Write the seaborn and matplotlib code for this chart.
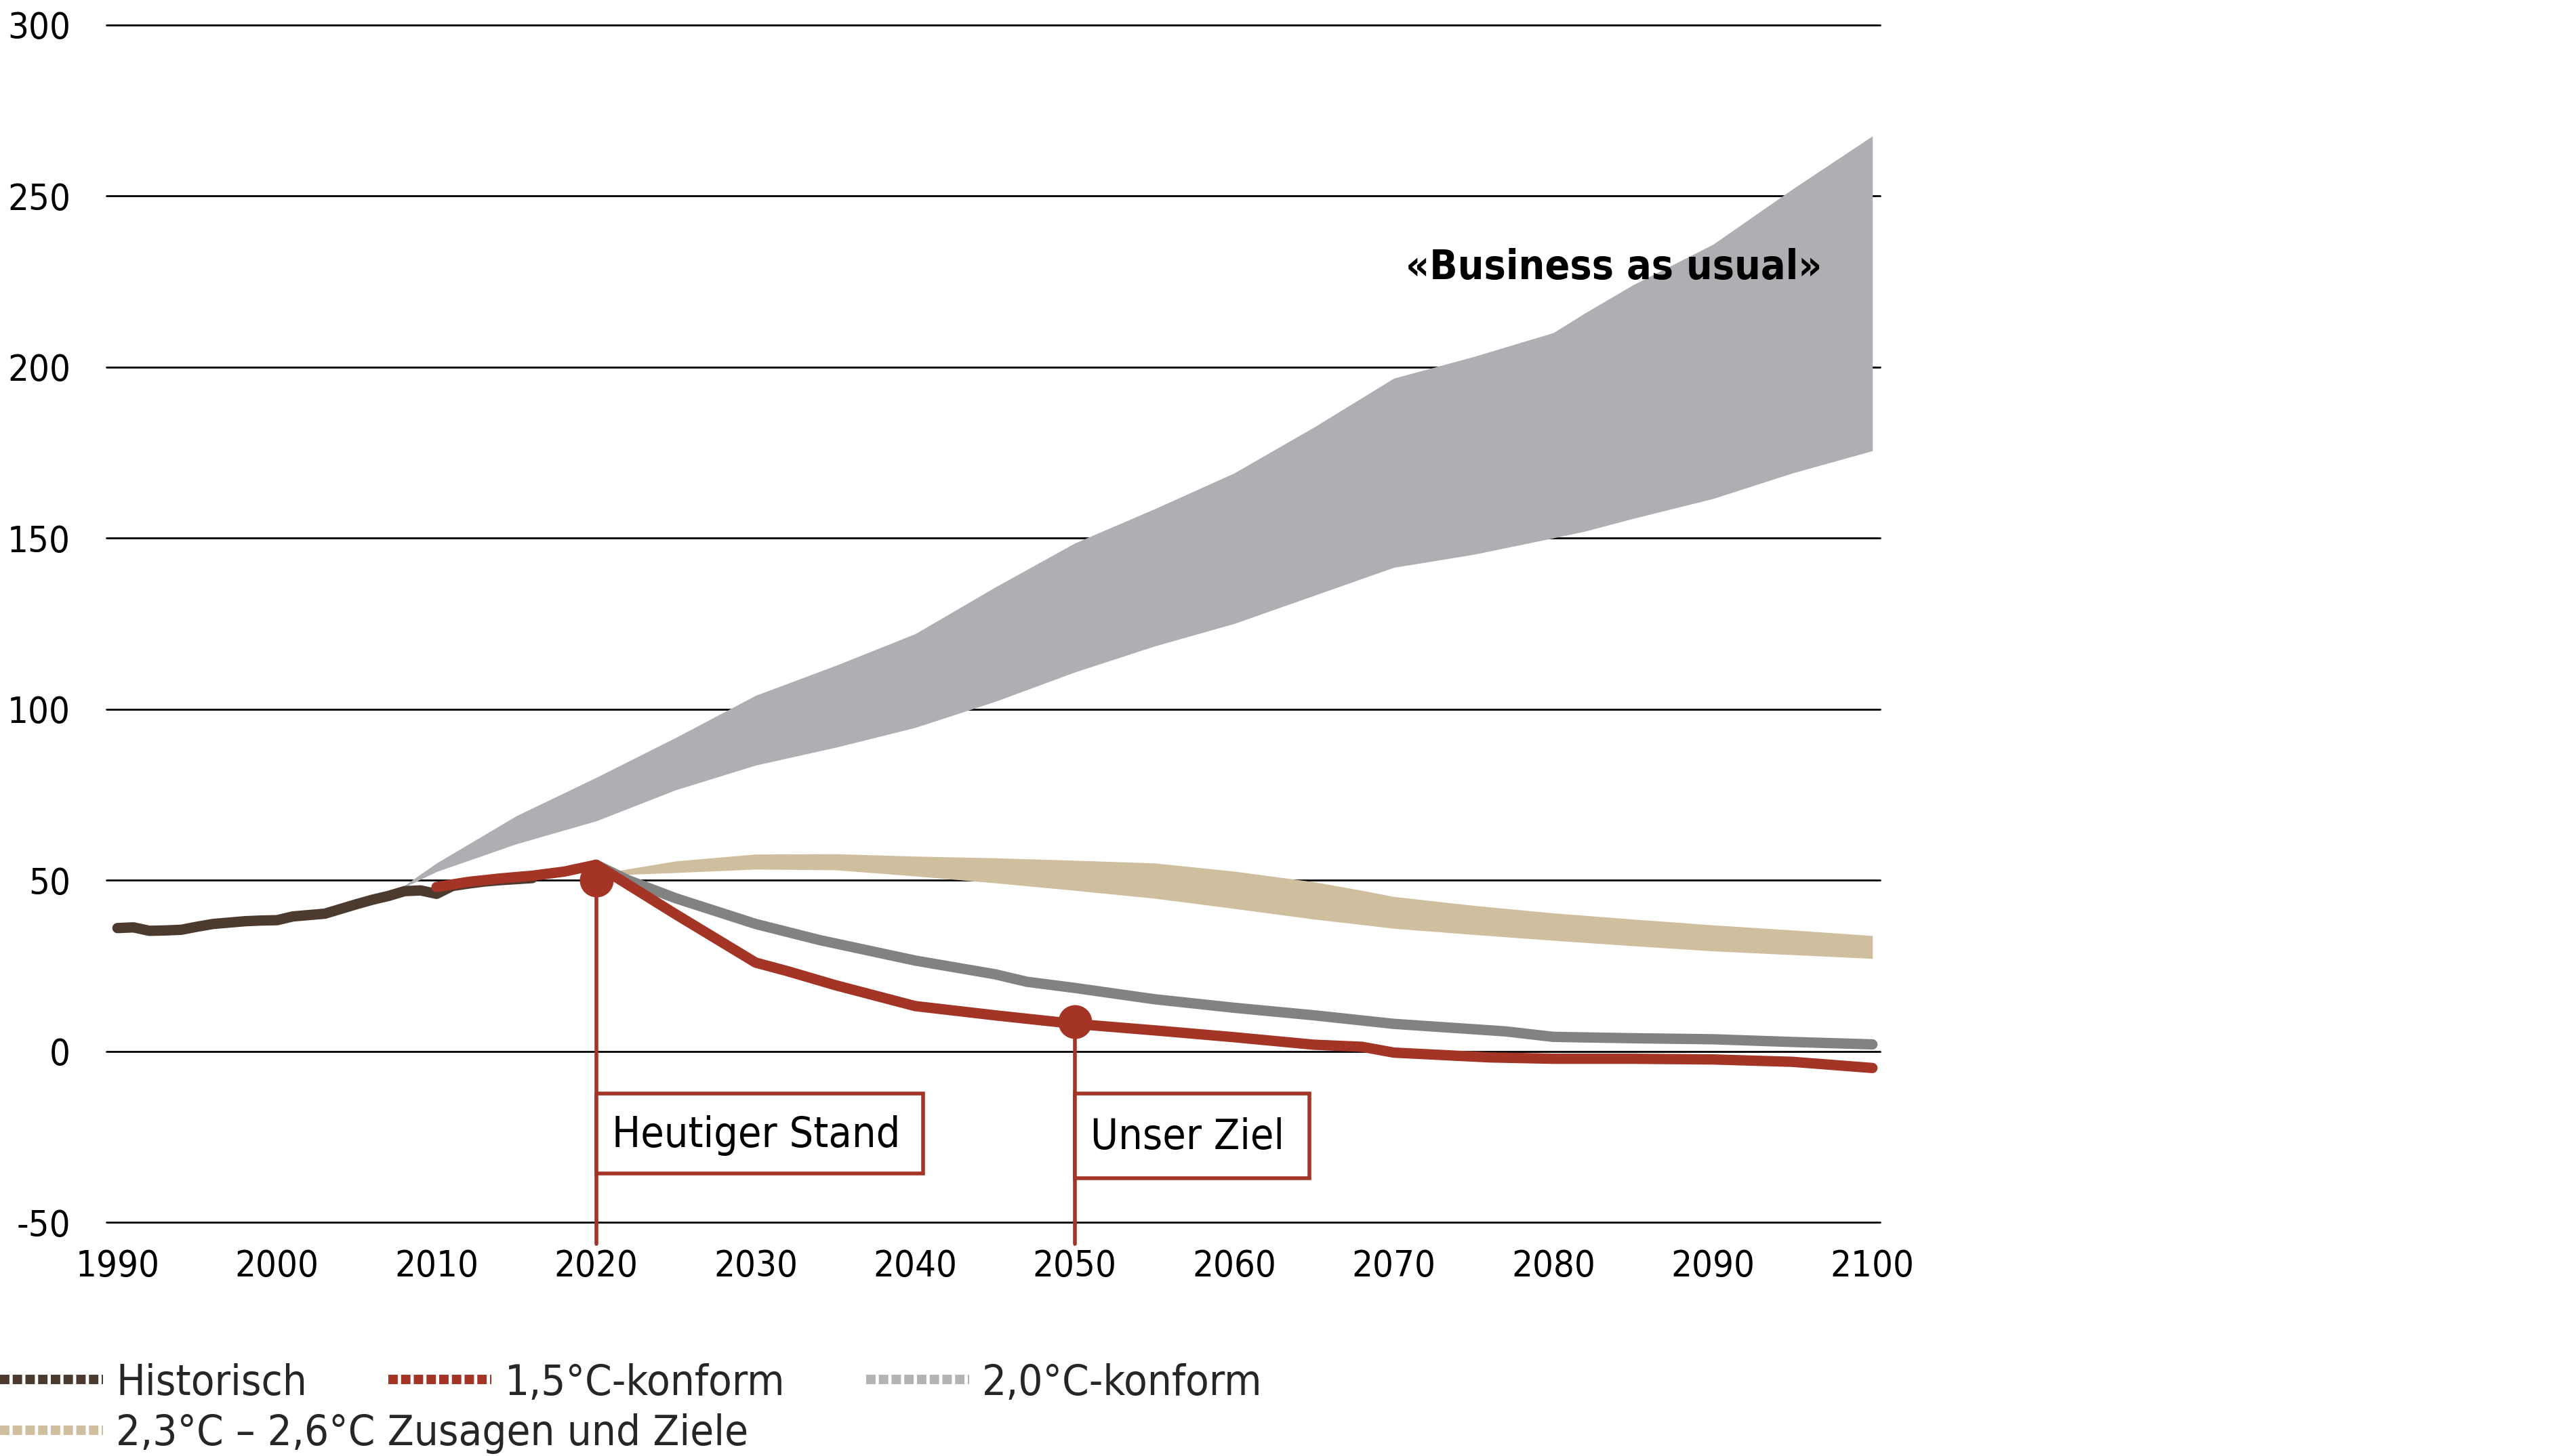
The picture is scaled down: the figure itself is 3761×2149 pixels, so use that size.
import numpy as np
import pandas as pd
import matplotlib
matplotlib.use("Agg")
import matplotlib.pyplot as plt
from matplotlib import font_manager as fm
from matplotlib.patches import Rectangle
from matplotlib.lines import Line2D
import seaborn as sns

# ---------------- data ----------------
hist_years = [1990, 1991, 1992, 1993, 1994, 1995, 1996, 1997, 1998, 1999, 2000, 2001, 2002,
              2003, 2004, 2005, 2006, 2007, 2008, 2009, 2010, 2011, 2012, 2013, 2014, 2015, 2016]
hist_values = [36.0, 36.2, 35.2, 35.3, 35.5, 36.4, 37.2, 37.6, 38.0, 38.2, 38.3, 39.4, 39.8,
               40.2, 41.6, 43.0, 44.3, 45.4, 46.8, 47.0, 46.0, 48.3, 49.0, 49.6, 50.0, 50.3, 50.6]

c15_years = [2010, 2012, 2014, 2016, 2018, 2020, 2025, 2030, 2032, 2035, 2040, 2045, 2050, 2055,
             2060, 2065, 2068, 2070, 2076, 2080, 2085, 2090, 2095, 2100]
c15_values = [48.0, 49.5, 50.5, 51.3, 52.5, 54.5, 40.0, 25.9, 23.4, 19.3, 13.2, 10.5, 8.0, 6.1,
              4.1, 1.9, 1.3, -0.4, -1.8, -2.2, -2.2, -2.4, -3.1, -4.9]

c20_years = [2020, 2022, 2025, 2030, 2034, 2040, 2045, 2047, 2050, 2055, 2060, 2065, 2068, 2070,
             2077, 2080, 2085, 2090, 2095, 2100]
c20_values = [54.5, 50.0, 44.7, 37.2, 32.5, 26.5, 22.5, 20.3, 18.5, 15.2, 12.7, 10.5, 9.0, 8.0,
              5.8, 4.2, 3.8, 3.5, 2.7, 2.0]

pledge_years = [2021, 2025, 2030, 2035, 2040, 2045, 2050, 2055, 2060, 2065, 2068, 2070, 2075,
                2080, 2085, 2090, 2095, 2100]
pledge_upper = [52.5, 55.6, 57.6, 57.7, 57.0, 56.5, 55.8, 55.0, 52.6, 49.5, 47.0, 45.2, 42.6,
                40.4, 38.6, 36.9, 35.4, 33.8]
pledge_lower = [51.5, 52.2, 53.2, 53.0, 51.2, 49.2, 47.0, 44.7, 41.7, 38.6, 37.0, 35.9, 34.1,
                32.4, 30.8, 29.3, 28.2, 27.1]

bau_years = [2008, 2010, 2015, 2020, 2025, 2030, 2035, 2040, 2045, 2050, 2055, 2060, 2065, 2070,
             2075, 2080, 2082, 2085, 2090, 2095, 2100]
bau_upper = [48.5, 55.0, 68.8, 80.0, 91.7, 104.0, 112.7, 122.0, 135.6, 148.5, 158.5, 169.0,
             182.4, 196.7, 203.0, 210.0, 215.8, 224.0, 235.8, 252.0, 267.5]
bau_lower = [48.0, 52.5, 60.6, 67.3, 76.4, 83.6, 88.8, 94.6, 102.2, 110.8, 118.4, 125.0,
             133.2, 141.4, 145.2, 150.0, 152.0, 155.7, 161.5, 169.0, 175.5]

marker_years = [2020, 2050]
marker_values = [50.0, 8.6]
marker_labels = ["Heutiger Stand", "Unser Ziel"]
box_widths = [20.5, 14.7]          # in years
box_top = -12.4
box_bottoms = [-35.8, -37.2]
stem_bottom = -56.4

y_ticks = [-50, 0, 50, 100, 150, 200, 250, 300]
x_ticks = list(range(1990, 2101, 10))

legend_labels = ["Historisch", "1,5°C-konform", "2,0°C-konform", "2,3°C – 2,6°C Zusagen und Ziele"]
bau_label = "«Business as usual»"

# ---------------- colours ----------------
C_HIST = "#4d3a2e"
C_15 = "#a33426"
C_20 = "#828282"
C_20_LEG = "#b3b3b3"
C_PLEDGE = "#d0bf9e"
C_BAU = "#aeafb2"

# ---------------- fonts ----------------
sns.set_theme(style="white")

def find_font(keys):
    for k in keys:
        for f in fm.fontManager.ttflist:
            if f.fname.split("/")[-1] == k:
                return f.fname
    return None

reg_path = find_font(["LiberationSansNarrow-Regular.ttf", "DejaVuSansCondensed.ttf"])
bold_path = find_font(["LiberationSansNarrow-Bold.ttf", "DejaVuSansCondensed-Bold.ttf"])

def fp(size, bold=False):
    path = bold_path if bold else reg_path
    if path:
        return fm.FontProperties(fname=path, size=size)
    return fm.FontProperties(family="DejaVu Sans", size=size,
                             weight="bold" if bold else "normal", stretch="condensed")

plt.rcParams["font.family"] = ["DejaVu Sans"]
plt.rcParams["axes.unicode_minus"] = False

TICK_FS = 19.5
LEG_FS = 22.8
ANN_FS = 22.5
BAU_FS = 21.8
LW = 5.5

fig = plt.figure(figsize=(18.805, 10.745), dpi=200)
ax = fig.add_axes([0.0417, 0.1605, 0.696, 0.8225])

# BAU band
ax.fill_between(bau_years, bau_lower, bau_upper, color=C_BAU, lw=0, zorder=1)
# pledge band
ax.fill_between(pledge_years, pledge_lower, pledge_upper, color=C_PLEDGE, lw=0, zorder=2)

df_hist = pd.DataFrame({"year": hist_years, "value": hist_values})
df_15 = pd.DataFrame({"year": c15_years, "value": c15_values})
df_20 = pd.DataFrame({"year": c20_years, "value": c20_values})

sns.lineplot(data=df_hist, x="year", y="value", ax=ax, color=C_HIST, linewidth=LW,
             solid_capstyle="round", zorder=3)
sns.lineplot(data=df_20, x="year", y="value", ax=ax, color=C_20, linewidth=LW,
             solid_capstyle="round", zorder=4)
sns.lineplot(data=df_15, x="year", y="value", ax=ax, color=C_15, linewidth=LW,
             solid_capstyle="round", zorder=5)

# annotation stems, markers, boxes
for yr, val, lab, bw, bb in zip(marker_years, marker_values, marker_labels, box_widths, box_bottoms):
    ax.plot([yr, yr], [val, stem_bottom], color=C_15, lw=2.0, clip_on=False, zorder=6)
    ax.plot([yr], [val], marker="o", ms=17, color=C_15, zorder=7)
    ax.add_patch(Rectangle((yr, bb), bw, box_top - bb, fill=True, facecolor="white",
                           edgecolor=C_15, lw=2.0, zorder=6))
    ax.text(yr + 1.0, (box_top + bb) / 2 - 0.5, lab, fontproperties=fp(ANN_FS),
            ha="left", va="center", color="black", zorder=8)

ax.text(2083.8, 229, bau_label, fontproperties=fp(BAU_FS, bold=True),
        ha="center", va="center", color="black", zorder=8)

# axes styling
ax.set_xlim(1989.3, 2100.5)
ax.set_ylim(-50, 300)
ax.set_yticks(y_ticks)
ax.set_xticks(x_ticks)
ax.set_xlabel("")
ax.set_ylabel("")
for s in ax.spines.values():
    s.set_visible(False)
ax.yaxis.grid(True, color="black", lw=1.0, zorder=0)
ax.xaxis.grid(False)
ax.set_axisbelow(True)
for gl in ax.get_ygridlines():
    gl.set_clip_on(False)
ax.tick_params(axis="both", length=0)
ax.tick_params(axis="y", pad=19)
ax.tick_params(axis="x", pad=14)
ax.set_yticklabels([str(v) for v in y_ticks])
ax.set_xticklabels([str(v) for v in x_ticks])
for t in ax.get_xticklabels() + ax.get_yticklabels():
    t.set_fontproperties(fp(TICK_FS))
    t.set_color("black")

# legends
dash = (0, (1.0, 0.35))
h = [Line2D([0], [0], color=C_HIST, lw=5, linestyle=dash),
     Line2D([0], [0], color=C_15, lw=5, linestyle=dash),
     Line2D([0], [0], color=C_20_LEG, lw=5, linestyle=dash),
     Line2D([0], [0], color=C_PLEDGE, lw=5, linestyle=dash)]

leg1 = fig.legend(h[:3], legend_labels[:3], loc="center left", bbox_to_anchor=(0.0, 0.050),
                  ncol=3, frameon=False, prop=fp(LEG_FS), handlelength=2.4,
                  handletextpad=0.3, columnspacing=1.9, borderpad=0, borderaxespad=0)
leg2 = fig.legend(h[3:], legend_labels[3:], loc="center left", bbox_to_anchor=(0.0, 0.0155),
                  ncol=1, frameon=False, prop=fp(LEG_FS), handlelength=2.4,
                  handletextpad=0.3, borderpad=0, borderaxespad=0)

fig.savefig("out.png", dpi=200, facecolor="white")
